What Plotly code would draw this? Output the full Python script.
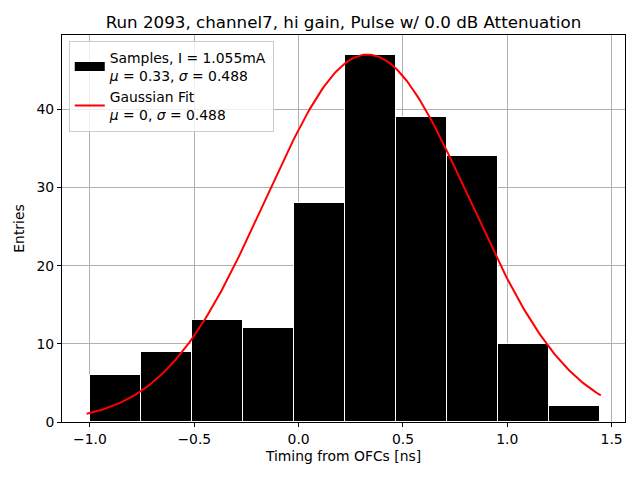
import numpy as np
import plotly.graph_objects as go

# Histogram data
bin_edges = [-1.0, -0.7555, -0.511, -0.2665, -0.022, 0.2225, 0.467, 0.7115, 0.956, 1.2005, 1.445]
counts = [6, 9, 13, 12, 28, 47, 39, 34, 10, 2]

# Fit parameters (as shown in the legend / figure)
fit_mu = 0.33
fit_sigma = 0.488
fit_amp = 47.0
fit_xmin = -1.016
fit_xmax = 1.448

centers = [(bin_edges[i] + bin_edges[i + 1]) / 2 for i in range(len(counts))]
widths = [bin_edges[i + 1] - bin_edges[i] for i in range(len(counts))]

xf = np.linspace(fit_xmin, fit_xmax, 300)
yf = fit_amp * np.exp(-((xf - fit_mu) ** 2) / (2 * fit_sigma ** 2))

fig = go.Figure()
fig.add_trace(go.Bar(
    x=centers, y=counts, width=widths,
    marker=dict(color="black", line=dict(color="white", width=1)),
    showlegend=False,
))
# legend-only entry for the histogram (wide black patch)
fig.add_trace(go.Scatter(
    x=[None], y=[None], mode="lines",
    line=dict(color="black", width=9),
    name="Samples, I = 1.055mA<br><i>μ</i> = 0.33, <i>σ</i> = 0.488",
))
fig.add_trace(go.Scatter(
    x=xf, y=yf, mode="lines",
    line=dict(color="red", width=2),
    name="Gaussian Fit<br><i>μ</i> = 0, <i>σ</i> = 0.488",
))

font = "DejaVu Sans"
fig.update_layout(
    width=640, height=480,
    margin=dict(l=62, r=15, t=35, b=58, autoexpand=False),
    paper_bgcolor="white", plot_bgcolor="white",
    font=dict(family=font, size=13.9, color="black"),
    title=dict(text="Run 2093, channel7, hi gain, Pulse w/ 0.0 dB Attenuation",
               x=(62 + 625) / 2 / 640, xanchor="center", y=1 - 22 / 480, yanchor="middle",
               font=dict(size=16.7, family=font)),
    showlegend=True,
    legend=dict(x=0.012, y=0.985, xanchor="left", yanchor="top",
                bgcolor="rgba(255,255,255,0.8)", bordercolor="#cccccc", borderwidth=1,
                font=dict(size=13.9, family=font), tracegroupgap=11),
    bargap=0,
)
fig.update_xaxes(
    range=[-1.134, 1.564], tickvals=[-1.0, -0.5, 0.0, 0.5, 1.0, 1.5],
    ticktext=["−1.0", "−0.5", "0.0", "0.5", "1.0", "1.5"],
    showgrid=True, gridcolor="#b0b0b0", gridwidth=0.8,
    showline=True, linecolor="black", linewidth=1, mirror=True,
    ticks="outside", ticklen=4, tickcolor="black", zeroline=False,
    layer="above traces", automargin=False,
    title=dict(text="Timing from OFCs [ns]", font=dict(size=13.9), standoff=5),
)
fig.update_yaxes(
    range=[0, 49.5], tickvals=[0, 10, 20, 30, 40],
    showgrid=True, gridcolor="#b0b0b0", gridwidth=0.8,
    showline=True, linecolor="black", linewidth=1, mirror=True,
    ticks="outside", ticklen=4, tickcolor="black", zeroline=False,
    layer="above traces", automargin=False,
    title=dict(text="Entries", font=dict(size=13.9), standoff=8),
)

fig.write_html("out.html", config={"displayModeBar": False},
               post_script="document.body.style.margin='0px';")
